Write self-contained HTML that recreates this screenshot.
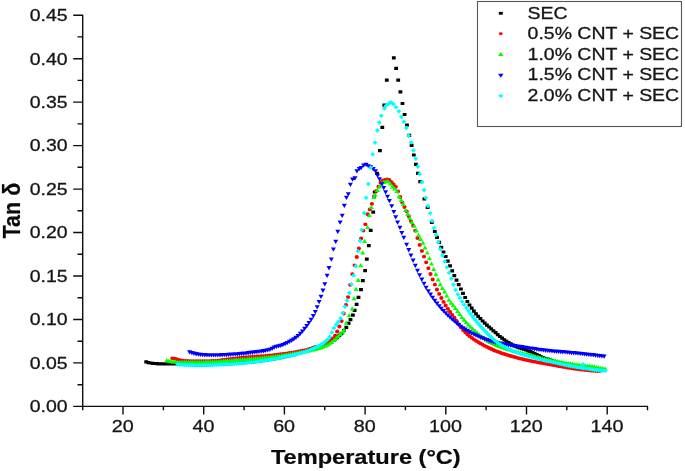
<!DOCTYPE html>
<html lang="en">
<head>
<meta charset="utf-8">
<title>Tan δ vs Temperature</title>
<style>
html,body{margin:0;padding:0;background:#fff;}
body{width:685px;height:471px;overflow:hidden;font-family:"Liberation Sans",sans-serif;}
svg{display:block;}
</style>
</head>
<body>
<svg width="685" height="471" viewBox="0 0 685 471" font-family="'Liberation Sans', sans-serif">
<rect width="685" height="471" fill="#fff"/>
<path d="M82.7 14.7V406.4H648.0" fill="none" stroke="#0c0c0c" stroke-width="1.4"/>
<path d="M73.2 406.4H82.7M77.5 384.7H82.7M73.2 362.9H82.7M77.5 341.2H82.7M73.2 319.5H82.7M77.5 297.7H82.7M73.2 276.0H82.7M77.5 254.3H82.7M73.2 232.5H82.7M77.5 210.8H82.7M73.2 189.1H82.7M77.5 167.3H82.7M73.2 145.6H82.7M77.5 123.9H82.7M73.2 102.1H82.7M77.5 80.4H82.7M73.2 58.7H82.7M77.5 36.9H82.7M73.2 15.2H82.7M82.7 406.4V410.2M123.0 406.4V414.5M163.4 406.4V410.2M203.7 406.4V414.5M244.1 406.4V410.2M284.4 406.4V414.5M324.8 406.4V410.2M365.1 406.4V414.5M405.4 406.4V410.2M445.8 406.4V414.5M486.1 406.4V410.2M526.5 406.4V414.5M566.8 406.4V410.2M607.2 406.4V414.5M647.5 406.4V410.2" fill="none" stroke="#0c0c0c" stroke-width="1.4"/>
<text transform="translate(67.6 412.2) scale(1.145 1)" font-size="17" font-weight="normal" text-anchor="end" fill="#161616" stroke="#161616" stroke-width="0.3">0.00</text>
<text transform="translate(67.6 368.7) scale(1.145 1)" font-size="17" font-weight="normal" text-anchor="end" fill="#161616" stroke="#161616" stroke-width="0.3">0.05</text>
<text transform="translate(67.6 325.3) scale(1.145 1)" font-size="17" font-weight="normal" text-anchor="end" fill="#161616" stroke="#161616" stroke-width="0.3">0.10</text>
<text transform="translate(67.6 281.8) scale(1.145 1)" font-size="17" font-weight="normal" text-anchor="end" fill="#161616" stroke="#161616" stroke-width="0.3">0.15</text>
<text transform="translate(67.6 238.3) scale(1.145 1)" font-size="17" font-weight="normal" text-anchor="end" fill="#161616" stroke="#161616" stroke-width="0.3">0.20</text>
<text transform="translate(67.6 194.9) scale(1.145 1)" font-size="17" font-weight="normal" text-anchor="end" fill="#161616" stroke="#161616" stroke-width="0.3">0.25</text>
<text transform="translate(67.6 151.4) scale(1.145 1)" font-size="17" font-weight="normal" text-anchor="end" fill="#161616" stroke="#161616" stroke-width="0.3">0.30</text>
<text transform="translate(67.6 107.9) scale(1.145 1)" font-size="17" font-weight="normal" text-anchor="end" fill="#161616" stroke="#161616" stroke-width="0.3">0.35</text>
<text transform="translate(67.6 64.5) scale(1.145 1)" font-size="17" font-weight="normal" text-anchor="end" fill="#161616" stroke="#161616" stroke-width="0.3">0.40</text>
<text transform="translate(67.6 21.0) scale(1.145 1)" font-size="17" font-weight="normal" text-anchor="end" fill="#161616" stroke="#161616" stroke-width="0.3">0.45</text>
<text transform="translate(122.7 432.4) scale(1.16 1)" font-size="17" font-weight="normal" text-anchor="middle" fill="#161616" stroke="#161616" stroke-width="0.3">20</text>
<text transform="translate(203.4 432.4) scale(1.16 1)" font-size="17" font-weight="normal" text-anchor="middle" fill="#161616" stroke="#161616" stroke-width="0.3">40</text>
<text transform="translate(284.1 432.4) scale(1.16 1)" font-size="17" font-weight="normal" text-anchor="middle" fill="#161616" stroke="#161616" stroke-width="0.3">60</text>
<text transform="translate(364.8 432.4) scale(1.16 1)" font-size="17" font-weight="normal" text-anchor="middle" fill="#161616" stroke="#161616" stroke-width="0.3">80</text>
<text transform="translate(445.5 432.4) scale(1.16 1)" font-size="17" font-weight="normal" text-anchor="middle" fill="#161616" stroke="#161616" stroke-width="0.3">100</text>
<text transform="translate(526.2 432.4) scale(1.16 1)" font-size="17" font-weight="normal" text-anchor="middle" fill="#161616" stroke="#161616" stroke-width="0.3">120</text>
<text transform="translate(606.9 432.4) scale(1.16 1)" font-size="17" font-weight="normal" text-anchor="middle" fill="#161616" stroke="#161616" stroke-width="0.3">140</text>
<text transform="translate(365.8 463.8) scale(1.18 1)" font-size="20" font-weight="bold" text-anchor="middle" fill="#0a0a0a" stroke="#0a0a0a" stroke-width="0.2">Temperature (°C)</text>
<text transform="translate(19.7 210.6) rotate(-90) scale(1.075 1.17)" font-size="20" font-weight="bold" text-anchor="middle" fill="#0a0a0a" stroke="#0a0a0a" stroke-width="0.2">Tan δ</text>
<defs><filter id="soft" x="0" y="0" width="685" height="471" filterUnits="userSpaceOnUse"><feGaussianBlur stdDeviation="0.35"/></filter></defs>
<g filter="url(#soft)">
<path fill="#000" d="M144.3 360.3h3.8v3.2h-3.8zM146.5 361.0h3.8v3.2h-3.8zM148.6 361.4h3.8v3.2h-3.8zM150.8 361.7h3.8v3.2h-3.8zM153.0 361.9h3.8v3.2h-3.8zM155.1 362.1h3.8v3.2h-3.8zM157.3 362.2h3.8v3.2h-3.8zM159.5 362.2h3.8v3.2h-3.8zM161.7 362.3h3.8v3.2h-3.8zM163.8 362.3h3.8v3.2h-3.8zM166.0 362.3h3.8v3.2h-3.8zM168.2 362.3h3.8v3.2h-3.8zM170.3 362.4h3.8v3.2h-3.8zM172.5 362.4h3.8v3.2h-3.8zM174.7 362.4h3.8v3.2h-3.8zM176.8 362.5h3.8v3.2h-3.8zM179.0 362.6h3.8v3.2h-3.8zM181.2 362.7h3.8v3.2h-3.8zM183.4 362.8h3.8v3.2h-3.8zM185.5 362.9h3.8v3.2h-3.8zM187.7 362.9h3.8v3.2h-3.8zM189.9 363.0h3.8v3.2h-3.8zM192.0 363.1h3.8v3.2h-3.8zM194.2 363.2h3.8v3.2h-3.8zM196.4 363.2h3.8v3.2h-3.8zM198.5 363.2h3.8v3.2h-3.8zM200.7 363.2h3.8v3.2h-3.8zM202.9 363.2h3.8v3.2h-3.8zM205.1 363.1h3.8v3.2h-3.8zM207.2 363.1h3.8v3.2h-3.8zM209.4 363.0h3.8v3.2h-3.8zM211.6 362.9h3.8v3.2h-3.8zM213.7 362.8h3.8v3.2h-3.8zM215.9 362.7h3.8v3.2h-3.8zM218.1 362.6h3.8v3.2h-3.8zM220.2 362.5h3.8v3.2h-3.8zM222.4 362.4h3.8v3.2h-3.8zM224.6 362.3h3.8v3.2h-3.8zM226.8 362.1h3.8v3.2h-3.8zM228.9 362.0h3.8v3.2h-3.8zM231.1 361.9h3.8v3.2h-3.8zM233.3 361.7h3.8v3.2h-3.8zM235.4 361.6h3.8v3.2h-3.8zM237.6 361.4h3.8v3.2h-3.8zM239.8 361.3h3.8v3.2h-3.8zM241.9 361.1h3.8v3.2h-3.8zM244.1 360.9h3.8v3.2h-3.8zM246.3 360.7h3.8v3.2h-3.8zM248.5 360.5h3.8v3.2h-3.8zM250.6 360.3h3.8v3.2h-3.8zM252.8 360.0h3.8v3.2h-3.8zM255.0 359.7h3.8v3.2h-3.8zM257.1 359.5h3.8v3.2h-3.8zM259.3 359.2h3.8v3.2h-3.8zM261.5 358.9h3.8v3.2h-3.8zM263.6 358.6h3.8v3.2h-3.8zM265.8 358.2h3.8v3.2h-3.8zM268.0 357.9h3.8v3.2h-3.8zM270.2 357.6h3.8v3.2h-3.8zM272.3 357.2h3.8v3.2h-3.8zM274.5 356.8h3.8v3.2h-3.8zM276.7 356.4h3.8v3.2h-3.8zM278.8 356.0h3.8v3.2h-3.8zM281.0 355.6h3.8v3.2h-3.8zM283.2 355.1h3.8v3.2h-3.8zM285.3 354.6h3.8v3.2h-3.8zM287.5 354.1h3.8v3.2h-3.8zM289.7 353.5h3.8v3.2h-3.8zM291.9 353.0h3.8v3.2h-3.8zM294.0 352.4h3.8v3.2h-3.8zM296.2 351.8h3.8v3.2h-3.8zM298.4 351.1h3.8v3.2h-3.8zM300.5 350.3h3.8v3.2h-3.8zM302.7 349.5h3.8v3.2h-3.8zM304.9 348.7h3.8v3.2h-3.8zM307.0 347.8h3.8v3.2h-3.8zM309.2 347.0h3.8v3.2h-3.8zM311.4 346.2h3.8v3.2h-3.8zM313.6 345.5h3.8v3.2h-3.8zM315.7 344.9h3.8v3.2h-3.8zM317.9 344.3h3.8v3.2h-3.8zM320.1 343.7h3.8v3.2h-3.8zM322.2 343.0h3.8v3.2h-3.8zM324.4 342.3h3.8v3.2h-3.8zM326.6 341.4h3.8v3.2h-3.8zM328.7 340.2h3.8v3.2h-3.8zM330.9 338.8h3.8v3.2h-3.8zM333.1 337.2h3.8v3.2h-3.8zM335.3 335.5h3.8v3.2h-3.8zM337.4 333.7h3.8v3.2h-3.8zM339.6 331.7h3.8v3.2h-3.8zM342.0 329.1h3.8v3.2h-3.8zM344.4 325.8h3.8v3.2h-3.8zM346.6 321.7h3.8v3.2h-3.8zM348.6 318.0h3.8v3.2h-3.8zM351.0 313.6h3.8v3.2h-3.8zM352.7 308.8h3.8v3.2h-3.8zM354.7 302.7h3.8v3.2h-3.8zM356.6 295.8h3.8v3.2h-3.8zM359.1 288.0h3.8v3.2h-3.8zM361.0 279.0h3.8v3.2h-3.8zM363.2 269.0h3.8v3.2h-3.8zM364.9 257.5h3.8v3.2h-3.8zM366.9 244.1h3.8v3.2h-3.8zM368.8 228.8h3.8v3.2h-3.8zM371.3 210.5h3.8v3.2h-3.8zM372.8 190.4h3.8v3.2h-3.8zM375.1 171.7h3.8v3.2h-3.8zM378.0 149.0h3.8v3.2h-3.8zM380.4 125.8h3.8v3.2h-3.8zM382.4 103.6h3.8v3.2h-3.8zM384.9 78.5h3.8v3.2h-3.8zM391.9 56.3h3.8v3.2h-3.8zM394.2 66.8h3.8v3.2h-3.8zM396.3 78.5h3.8v3.2h-3.8zM398.5 90.2h3.8v3.2h-3.8zM400.6 101.9h3.8v3.2h-3.8zM402.7 112.9h3.8v3.2h-3.8zM405.1 123.4h3.8v3.2h-3.8zM407.4 133.7h3.8v3.2h-3.8zM409.7 143.7h3.8v3.2h-3.8zM411.9 153.4h3.8v3.2h-3.8zM414.0 162.8h3.8v3.2h-3.8zM416.1 171.8h3.8v3.2h-3.8zM418.3 180.1h3.8v3.2h-3.8zM422.5 197.3h3.8v3.2h-3.8zM425.7 205.9h3.8v3.2h-3.8zM429.9 220.7h3.8v3.2h-3.8zM432.9 229.9h3.8v3.2h-3.8zM435.1 235.7h3.8v3.2h-3.8zM437.3 240.8h3.8v3.2h-3.8zM439.4 245.7h3.8v3.2h-3.8zM441.6 250.4h3.8v3.2h-3.8zM443.8 254.9h3.8v3.2h-3.8zM445.9 259.5h3.8v3.2h-3.8zM448.1 264.3h3.8v3.2h-3.8zM450.3 269.2h3.8v3.2h-3.8zM452.4 274.0h3.8v3.2h-3.8zM454.6 278.6h3.8v3.2h-3.8zM456.8 283.1h3.8v3.2h-3.8zM459.0 287.4h3.8v3.2h-3.8zM461.1 291.7h3.8v3.2h-3.8zM463.3 295.9h3.8v3.2h-3.8zM465.5 299.9h3.8v3.2h-3.8zM467.6 303.4h3.8v3.2h-3.8zM469.8 306.6h3.8v3.2h-3.8zM472.0 309.5h3.8v3.2h-3.8zM474.1 312.2h3.8v3.2h-3.8zM476.3 314.7h3.8v3.2h-3.8zM478.5 317.1h3.8v3.2h-3.8zM480.7 319.4h3.8v3.2h-3.8zM482.8 321.5h3.8v3.2h-3.8zM485.0 323.5h3.8v3.2h-3.8zM487.2 325.4h3.8v3.2h-3.8zM489.3 327.3h3.8v3.2h-3.8zM491.5 329.2h3.8v3.2h-3.8zM493.7 331.1h3.8v3.2h-3.8zM495.8 333.0h3.8v3.2h-3.8zM498.0 334.9h3.8v3.2h-3.8zM500.2 336.6h3.8v3.2h-3.8zM502.4 338.2h3.8v3.2h-3.8zM504.5 339.7h3.8v3.2h-3.8zM506.7 341.0h3.8v3.2h-3.8zM508.9 342.3h3.8v3.2h-3.8zM511.0 343.5h3.8v3.2h-3.8zM513.2 344.6h3.8v3.2h-3.8zM515.4 345.5h3.8v3.2h-3.8zM517.5 346.3h3.8v3.2h-3.8zM519.7 347.0h3.8v3.2h-3.8zM521.9 347.6h3.8v3.2h-3.8zM524.1 348.4h3.8v3.2h-3.8zM526.2 349.2h3.8v3.2h-3.8zM528.4 350.1h3.8v3.2h-3.8zM530.6 351.0h3.8v3.2h-3.8zM532.7 352.0h3.8v3.2h-3.8zM534.9 353.0h3.8v3.2h-3.8zM537.1 354.1h3.8v3.2h-3.8zM539.2 355.2h3.8v3.2h-3.8zM541.4 356.1h3.8v3.2h-3.8zM543.6 356.9h3.8v3.2h-3.8zM545.8 357.6h3.8v3.2h-3.8zM547.9 358.3h3.8v3.2h-3.8zM550.1 359.0h3.8v3.2h-3.8zM552.3 359.7h3.8v3.2h-3.8zM554.4 360.3h3.8v3.2h-3.8zM556.6 361.0h3.8v3.2h-3.8zM558.8 361.6h3.8v3.2h-3.8zM560.9 362.1h3.8v3.2h-3.8zM563.1 362.7h3.8v3.2h-3.8zM565.3 363.2h3.8v3.2h-3.8zM567.5 363.7h3.8v3.2h-3.8zM569.6 364.2h3.8v3.2h-3.8zM571.8 364.7h3.8v3.2h-3.8zM574.0 365.2h3.8v3.2h-3.8zM576.1 365.6h3.8v3.2h-3.8zM578.3 366.0h3.8v3.2h-3.8zM580.5 366.4h3.8v3.2h-3.8zM582.6 366.8h3.8v3.2h-3.8zM584.8 367.2h3.8v3.2h-3.8zM587.0 367.6h3.8v3.2h-3.8zM589.1 367.9h3.8v3.2h-3.8zM591.3 368.3h3.8v3.2h-3.8zM593.5 368.6h3.8v3.2h-3.8zM595.7 368.9h3.8v3.2h-3.8zM597.8 369.2h3.8v3.2h-3.8z"/>
<path fill="#f00" d="M170.2 358.3a2.1 1.9 0 1 0 4.2 0a2.1 1.9 0 1 0 -4.2 0zM172.4 358.7a2.1 1.9 0 1 0 4.2 0a2.1 1.9 0 1 0 -4.2 0zM174.5 359.2a2.1 1.9 0 1 0 4.2 0a2.1 1.9 0 1 0 -4.2 0zM176.7 359.8a2.1 1.9 0 1 0 4.2 0a2.1 1.9 0 1 0 -4.2 0zM178.9 360.3a2.1 1.9 0 1 0 4.2 0a2.1 1.9 0 1 0 -4.2 0zM181.0 360.7a2.1 1.9 0 1 0 4.2 0a2.1 1.9 0 1 0 -4.2 0zM183.2 361.0a2.1 1.9 0 1 0 4.2 0a2.1 1.9 0 1 0 -4.2 0zM185.4 361.0a2.1 1.9 0 1 0 4.2 0a2.1 1.9 0 1 0 -4.2 0zM187.6 361.1a2.1 1.9 0 1 0 4.2 0a2.1 1.9 0 1 0 -4.2 0zM189.7 361.1a2.1 1.9 0 1 0 4.2 0a2.1 1.9 0 1 0 -4.2 0zM191.9 361.2a2.1 1.9 0 1 0 4.2 0a2.1 1.9 0 1 0 -4.2 0zM194.1 361.2a2.1 1.9 0 1 0 4.2 0a2.1 1.9 0 1 0 -4.2 0zM196.2 361.2a2.1 1.9 0 1 0 4.2 0a2.1 1.9 0 1 0 -4.2 0zM198.4 361.2a2.1 1.9 0 1 0 4.2 0a2.1 1.9 0 1 0 -4.2 0zM200.6 361.2a2.1 1.9 0 1 0 4.2 0a2.1 1.9 0 1 0 -4.2 0zM202.7 361.2a2.1 1.9 0 1 0 4.2 0a2.1 1.9 0 1 0 -4.2 0zM204.9 361.1a2.1 1.9 0 1 0 4.2 0a2.1 1.9 0 1 0 -4.2 0zM207.1 361.1a2.1 1.9 0 1 0 4.2 0a2.1 1.9 0 1 0 -4.2 0zM209.3 361.0a2.1 1.9 0 1 0 4.2 0a2.1 1.9 0 1 0 -4.2 0zM211.4 360.9a2.1 1.9 0 1 0 4.2 0a2.1 1.9 0 1 0 -4.2 0zM213.6 360.8a2.1 1.9 0 1 0 4.2 0a2.1 1.9 0 1 0 -4.2 0zM215.8 360.6a2.1 1.9 0 1 0 4.2 0a2.1 1.9 0 1 0 -4.2 0zM217.9 360.3a2.1 1.9 0 1 0 4.2 0a2.1 1.9 0 1 0 -4.2 0zM220.1 360.0a2.1 1.9 0 1 0 4.2 0a2.1 1.9 0 1 0 -4.2 0zM222.3 359.8a2.1 1.9 0 1 0 4.2 0a2.1 1.9 0 1 0 -4.2 0zM224.4 359.5a2.1 1.9 0 1 0 4.2 0a2.1 1.9 0 1 0 -4.2 0zM226.6 359.2a2.1 1.9 0 1 0 4.2 0a2.1 1.9 0 1 0 -4.2 0zM228.8 358.9a2.1 1.9 0 1 0 4.2 0a2.1 1.9 0 1 0 -4.2 0zM231.0 358.6a2.1 1.9 0 1 0 4.2 0a2.1 1.9 0 1 0 -4.2 0zM233.1 358.4a2.1 1.9 0 1 0 4.2 0a2.1 1.9 0 1 0 -4.2 0zM235.3 358.1a2.1 1.9 0 1 0 4.2 0a2.1 1.9 0 1 0 -4.2 0zM237.5 357.8a2.1 1.9 0 1 0 4.2 0a2.1 1.9 0 1 0 -4.2 0zM239.6 357.6a2.1 1.9 0 1 0 4.2 0a2.1 1.9 0 1 0 -4.2 0zM241.8 357.4a2.1 1.9 0 1 0 4.2 0a2.1 1.9 0 1 0 -4.2 0zM244.0 357.3a2.1 1.9 0 1 0 4.2 0a2.1 1.9 0 1 0 -4.2 0zM246.1 357.1a2.1 1.9 0 1 0 4.2 0a2.1 1.9 0 1 0 -4.2 0zM248.3 357.0a2.1 1.9 0 1 0 4.2 0a2.1 1.9 0 1 0 -4.2 0zM250.5 356.8a2.1 1.9 0 1 0 4.2 0a2.1 1.9 0 1 0 -4.2 0zM252.7 356.7a2.1 1.9 0 1 0 4.2 0a2.1 1.9 0 1 0 -4.2 0zM254.8 356.5a2.1 1.9 0 1 0 4.2 0a2.1 1.9 0 1 0 -4.2 0zM257.0 356.4a2.1 1.9 0 1 0 4.2 0a2.1 1.9 0 1 0 -4.2 0zM259.2 356.2a2.1 1.9 0 1 0 4.2 0a2.1 1.9 0 1 0 -4.2 0zM261.3 356.1a2.1 1.9 0 1 0 4.2 0a2.1 1.9 0 1 0 -4.2 0zM263.5 355.9a2.1 1.9 0 1 0 4.2 0a2.1 1.9 0 1 0 -4.2 0zM265.7 355.7a2.1 1.9 0 1 0 4.2 0a2.1 1.9 0 1 0 -4.2 0zM267.8 355.5a2.1 1.9 0 1 0 4.2 0a2.1 1.9 0 1 0 -4.2 0zM270.0 355.3a2.1 1.9 0 1 0 4.2 0a2.1 1.9 0 1 0 -4.2 0zM272.2 355.0a2.1 1.9 0 1 0 4.2 0a2.1 1.9 0 1 0 -4.2 0zM274.4 354.8a2.1 1.9 0 1 0 4.2 0a2.1 1.9 0 1 0 -4.2 0zM276.5 354.5a2.1 1.9 0 1 0 4.2 0a2.1 1.9 0 1 0 -4.2 0zM278.7 354.2a2.1 1.9 0 1 0 4.2 0a2.1 1.9 0 1 0 -4.2 0zM280.9 353.9a2.1 1.9 0 1 0 4.2 0a2.1 1.9 0 1 0 -4.2 0zM283.0 353.6a2.1 1.9 0 1 0 4.2 0a2.1 1.9 0 1 0 -4.2 0zM285.2 353.3a2.1 1.9 0 1 0 4.2 0a2.1 1.9 0 1 0 -4.2 0zM287.4 353.0a2.1 1.9 0 1 0 4.2 0a2.1 1.9 0 1 0 -4.2 0zM289.5 352.6a2.1 1.9 0 1 0 4.2 0a2.1 1.9 0 1 0 -4.2 0zM291.7 352.3a2.1 1.9 0 1 0 4.2 0a2.1 1.9 0 1 0 -4.2 0zM293.9 351.9a2.1 1.9 0 1 0 4.2 0a2.1 1.9 0 1 0 -4.2 0zM296.1 351.5a2.1 1.9 0 1 0 4.2 0a2.1 1.9 0 1 0 -4.2 0zM298.2 351.1a2.1 1.9 0 1 0 4.2 0a2.1 1.9 0 1 0 -4.2 0zM300.4 350.7a2.1 1.9 0 1 0 4.2 0a2.1 1.9 0 1 0 -4.2 0zM302.6 350.3a2.1 1.9 0 1 0 4.2 0a2.1 1.9 0 1 0 -4.2 0zM304.7 349.8a2.1 1.9 0 1 0 4.2 0a2.1 1.9 0 1 0 -4.2 0zM306.9 349.3a2.1 1.9 0 1 0 4.2 0a2.1 1.9 0 1 0 -4.2 0zM309.1 348.8a2.1 1.9 0 1 0 4.2 0a2.1 1.9 0 1 0 -4.2 0zM311.2 348.2a2.1 1.9 0 1 0 4.2 0a2.1 1.9 0 1 0 -4.2 0zM313.4 347.6a2.1 1.9 0 1 0 4.2 0a2.1 1.9 0 1 0 -4.2 0zM315.6 346.9a2.1 1.9 0 1 0 4.2 0a2.1 1.9 0 1 0 -4.2 0zM317.8 346.2a2.1 1.9 0 1 0 4.2 0a2.1 1.9 0 1 0 -4.2 0zM319.9 345.4a2.1 1.9 0 1 0 4.2 0a2.1 1.9 0 1 0 -4.2 0zM322.1 344.5a2.1 1.9 0 1 0 4.2 0a2.1 1.9 0 1 0 -4.2 0zM324.3 343.4a2.1 1.9 0 1 0 4.2 0a2.1 1.9 0 1 0 -4.2 0zM326.4 342.2a2.1 1.9 0 1 0 4.2 0a2.1 1.9 0 1 0 -4.2 0zM328.6 340.5a2.1 1.9 0 1 0 4.2 0a2.1 1.9 0 1 0 -4.2 0zM330.8 338.3a2.1 1.9 0 1 0 4.2 0a2.1 1.9 0 1 0 -4.2 0zM333.0 335.6a2.1 1.9 0 1 0 4.2 0a2.1 1.9 0 1 0 -4.2 0zM335.1 331.5a2.1 1.9 0 1 0 4.2 0a2.1 1.9 0 1 0 -4.2 0zM337.3 326.5a2.1 1.9 0 1 0 4.2 0a2.1 1.9 0 1 0 -4.2 0zM339.5 321.1a2.1 1.9 0 1 0 4.2 0a2.1 1.9 0 1 0 -4.2 0zM341.6 313.5a2.1 1.9 0 1 0 4.2 0a2.1 1.9 0 1 0 -4.2 0zM343.8 305.0a2.1 1.9 0 1 0 4.2 0a2.1 1.9 0 1 0 -4.2 0zM346.0 297.1a2.1 1.9 0 1 0 4.2 0a2.1 1.9 0 1 0 -4.2 0zM348.1 284.8a2.1 1.9 0 1 0 4.2 0a2.1 1.9 0 1 0 -4.2 0zM350.3 274.2a2.1 1.9 0 1 0 4.2 0a2.1 1.9 0 1 0 -4.2 0zM352.5 265.3a2.1 1.9 0 1 0 4.2 0a2.1 1.9 0 1 0 -4.2 0zM354.7 257.0a2.1 1.9 0 1 0 4.2 0a2.1 1.9 0 1 0 -4.2 0zM356.8 248.5a2.1 1.9 0 1 0 4.2 0a2.1 1.9 0 1 0 -4.2 0zM359.0 238.4a2.1 1.9 0 1 0 4.2 0a2.1 1.9 0 1 0 -4.2 0zM361.2 230.6a2.1 1.9 0 1 0 4.2 0a2.1 1.9 0 1 0 -4.2 0zM363.3 224.3a2.1 1.9 0 1 0 4.2 0a2.1 1.9 0 1 0 -4.2 0zM365.5 214.2a2.1 1.9 0 1 0 4.2 0a2.1 1.9 0 1 0 -4.2 0zM367.7 209.3a2.1 1.9 0 1 0 4.2 0a2.1 1.9 0 1 0 -4.2 0zM369.8 203.8a2.1 1.9 0 1 0 4.2 0a2.1 1.9 0 1 0 -4.2 0zM372.0 196.5a2.1 1.9 0 1 0 4.2 0a2.1 1.9 0 1 0 -4.2 0zM374.2 191.0a2.1 1.9 0 1 0 4.2 0a2.1 1.9 0 1 0 -4.2 0zM376.4 186.6a2.1 1.9 0 1 0 4.2 0a2.1 1.9 0 1 0 -4.2 0zM378.5 182.4a2.1 1.9 0 1 0 4.2 0a2.1 1.9 0 1 0 -4.2 0zM380.7 180.4a2.1 1.9 0 1 0 4.2 0a2.1 1.9 0 1 0 -4.2 0zM382.9 180.0a2.1 1.9 0 1 0 4.2 0a2.1 1.9 0 1 0 -4.2 0zM385.0 179.5a2.1 1.9 0 1 0 4.2 0a2.1 1.9 0 1 0 -4.2 0zM387.2 179.9a2.1 1.9 0 1 0 4.2 0a2.1 1.9 0 1 0 -4.2 0zM389.4 182.1a2.1 1.9 0 1 0 4.2 0a2.1 1.9 0 1 0 -4.2 0zM391.5 184.5a2.1 1.9 0 1 0 4.2 0a2.1 1.9 0 1 0 -4.2 0zM393.7 186.8a2.1 1.9 0 1 0 4.2 0a2.1 1.9 0 1 0 -4.2 0zM395.9 191.5a2.1 1.9 0 1 0 4.2 0a2.1 1.9 0 1 0 -4.2 0zM398.1 197.0a2.1 1.9 0 1 0 4.2 0a2.1 1.9 0 1 0 -4.2 0zM400.2 202.4a2.1 1.9 0 1 0 4.2 0a2.1 1.9 0 1 0 -4.2 0zM402.4 207.0a2.1 1.9 0 1 0 4.2 0a2.1 1.9 0 1 0 -4.2 0zM404.6 211.3a2.1 1.9 0 1 0 4.2 0a2.1 1.9 0 1 0 -4.2 0zM406.7 216.2a2.1 1.9 0 1 0 4.2 0a2.1 1.9 0 1 0 -4.2 0zM408.9 221.1a2.1 1.9 0 1 0 4.2 0a2.1 1.9 0 1 0 -4.2 0zM411.1 225.5a2.1 1.9 0 1 0 4.2 0a2.1 1.9 0 1 0 -4.2 0zM413.2 230.7a2.1 1.9 0 1 0 4.2 0a2.1 1.9 0 1 0 -4.2 0zM415.4 238.0a2.1 1.9 0 1 0 4.2 0a2.1 1.9 0 1 0 -4.2 0zM417.6 244.9a2.1 1.9 0 1 0 4.2 0a2.1 1.9 0 1 0 -4.2 0zM419.8 250.9a2.1 1.9 0 1 0 4.2 0a2.1 1.9 0 1 0 -4.2 0zM421.9 256.6a2.1 1.9 0 1 0 4.2 0a2.1 1.9 0 1 0 -4.2 0zM424.1 262.3a2.1 1.9 0 1 0 4.2 0a2.1 1.9 0 1 0 -4.2 0zM426.3 268.2a2.1 1.9 0 1 0 4.2 0a2.1 1.9 0 1 0 -4.2 0zM428.4 274.0a2.1 1.9 0 1 0 4.2 0a2.1 1.9 0 1 0 -4.2 0zM430.6 279.5a2.1 1.9 0 1 0 4.2 0a2.1 1.9 0 1 0 -4.2 0zM432.8 284.6a2.1 1.9 0 1 0 4.2 0a2.1 1.9 0 1 0 -4.2 0zM434.9 289.5a2.1 1.9 0 1 0 4.2 0a2.1 1.9 0 1 0 -4.2 0zM437.1 293.9a2.1 1.9 0 1 0 4.2 0a2.1 1.9 0 1 0 -4.2 0zM439.3 298.0a2.1 1.9 0 1 0 4.2 0a2.1 1.9 0 1 0 -4.2 0zM441.5 301.9a2.1 1.9 0 1 0 4.2 0a2.1 1.9 0 1 0 -4.2 0zM443.6 305.5a2.1 1.9 0 1 0 4.2 0a2.1 1.9 0 1 0 -4.2 0zM445.8 308.8a2.1 1.9 0 1 0 4.2 0a2.1 1.9 0 1 0 -4.2 0zM448.0 311.9a2.1 1.9 0 1 0 4.2 0a2.1 1.9 0 1 0 -4.2 0zM450.1 314.8a2.1 1.9 0 1 0 4.2 0a2.1 1.9 0 1 0 -4.2 0zM452.3 317.7a2.1 1.9 0 1 0 4.2 0a2.1 1.9 0 1 0 -4.2 0zM454.5 320.9a2.1 1.9 0 1 0 4.2 0a2.1 1.9 0 1 0 -4.2 0zM456.6 324.2a2.1 1.9 0 1 0 4.2 0a2.1 1.9 0 1 0 -4.2 0zM458.8 327.3a2.1 1.9 0 1 0 4.2 0a2.1 1.9 0 1 0 -4.2 0zM461.0 330.1a2.1 1.9 0 1 0 4.2 0a2.1 1.9 0 1 0 -4.2 0zM463.2 332.3a2.1 1.9 0 1 0 4.2 0a2.1 1.9 0 1 0 -4.2 0zM465.3 334.3a2.1 1.9 0 1 0 4.2 0a2.1 1.9 0 1 0 -4.2 0zM467.5 336.2a2.1 1.9 0 1 0 4.2 0a2.1 1.9 0 1 0 -4.2 0zM469.7 337.8a2.1 1.9 0 1 0 4.2 0a2.1 1.9 0 1 0 -4.2 0zM471.8 339.3a2.1 1.9 0 1 0 4.2 0a2.1 1.9 0 1 0 -4.2 0zM474.0 340.8a2.1 1.9 0 1 0 4.2 0a2.1 1.9 0 1 0 -4.2 0zM476.2 342.1a2.1 1.9 0 1 0 4.2 0a2.1 1.9 0 1 0 -4.2 0zM478.3 343.4a2.1 1.9 0 1 0 4.2 0a2.1 1.9 0 1 0 -4.2 0zM480.5 344.7a2.1 1.9 0 1 0 4.2 0a2.1 1.9 0 1 0 -4.2 0zM482.7 345.8a2.1 1.9 0 1 0 4.2 0a2.1 1.9 0 1 0 -4.2 0zM484.9 346.9a2.1 1.9 0 1 0 4.2 0a2.1 1.9 0 1 0 -4.2 0zM487.0 348.0a2.1 1.9 0 1 0 4.2 0a2.1 1.9 0 1 0 -4.2 0zM489.2 349.0a2.1 1.9 0 1 0 4.2 0a2.1 1.9 0 1 0 -4.2 0zM491.4 350.0a2.1 1.9 0 1 0 4.2 0a2.1 1.9 0 1 0 -4.2 0zM493.5 350.9a2.1 1.9 0 1 0 4.2 0a2.1 1.9 0 1 0 -4.2 0zM495.7 351.7a2.1 1.9 0 1 0 4.2 0a2.1 1.9 0 1 0 -4.2 0zM497.9 352.5a2.1 1.9 0 1 0 4.2 0a2.1 1.9 0 1 0 -4.2 0zM500.0 353.3a2.1 1.9 0 1 0 4.2 0a2.1 1.9 0 1 0 -4.2 0zM502.2 354.0a2.1 1.9 0 1 0 4.2 0a2.1 1.9 0 1 0 -4.2 0zM504.4 354.7a2.1 1.9 0 1 0 4.2 0a2.1 1.9 0 1 0 -4.2 0zM506.6 355.3a2.1 1.9 0 1 0 4.2 0a2.1 1.9 0 1 0 -4.2 0zM508.7 356.0a2.1 1.9 0 1 0 4.2 0a2.1 1.9 0 1 0 -4.2 0zM510.9 356.6a2.1 1.9 0 1 0 4.2 0a2.1 1.9 0 1 0 -4.2 0zM513.1 357.2a2.1 1.9 0 1 0 4.2 0a2.1 1.9 0 1 0 -4.2 0zM515.2 357.8a2.1 1.9 0 1 0 4.2 0a2.1 1.9 0 1 0 -4.2 0zM517.4 358.3a2.1 1.9 0 1 0 4.2 0a2.1 1.9 0 1 0 -4.2 0zM519.6 358.8a2.1 1.9 0 1 0 4.2 0a2.1 1.9 0 1 0 -4.2 0zM521.7 359.4a2.1 1.9 0 1 0 4.2 0a2.1 1.9 0 1 0 -4.2 0zM523.9 359.9a2.1 1.9 0 1 0 4.2 0a2.1 1.9 0 1 0 -4.2 0zM526.1 360.3a2.1 1.9 0 1 0 4.2 0a2.1 1.9 0 1 0 -4.2 0zM528.3 360.8a2.1 1.9 0 1 0 4.2 0a2.1 1.9 0 1 0 -4.2 0zM530.4 361.3a2.1 1.9 0 1 0 4.2 0a2.1 1.9 0 1 0 -4.2 0zM532.6 361.7a2.1 1.9 0 1 0 4.2 0a2.1 1.9 0 1 0 -4.2 0zM534.8 362.1a2.1 1.9 0 1 0 4.2 0a2.1 1.9 0 1 0 -4.2 0zM536.9 362.5a2.1 1.9 0 1 0 4.2 0a2.1 1.9 0 1 0 -4.2 0zM539.1 362.9a2.1 1.9 0 1 0 4.2 0a2.1 1.9 0 1 0 -4.2 0zM541.3 363.3a2.1 1.9 0 1 0 4.2 0a2.1 1.9 0 1 0 -4.2 0zM543.4 363.6a2.1 1.9 0 1 0 4.2 0a2.1 1.9 0 1 0 -4.2 0zM545.6 364.0a2.1 1.9 0 1 0 4.2 0a2.1 1.9 0 1 0 -4.2 0zM547.8 364.4a2.1 1.9 0 1 0 4.2 0a2.1 1.9 0 1 0 -4.2 0zM550.0 364.8a2.1 1.9 0 1 0 4.2 0a2.1 1.9 0 1 0 -4.2 0zM552.1 365.2a2.1 1.9 0 1 0 4.2 0a2.1 1.9 0 1 0 -4.2 0zM554.3 365.6a2.1 1.9 0 1 0 4.2 0a2.1 1.9 0 1 0 -4.2 0zM556.5 366.0a2.1 1.9 0 1 0 4.2 0a2.1 1.9 0 1 0 -4.2 0zM558.6 366.4a2.1 1.9 0 1 0 4.2 0a2.1 1.9 0 1 0 -4.2 0zM560.8 366.8a2.1 1.9 0 1 0 4.2 0a2.1 1.9 0 1 0 -4.2 0zM563.0 367.1a2.1 1.9 0 1 0 4.2 0a2.1 1.9 0 1 0 -4.2 0zM565.1 367.5a2.1 1.9 0 1 0 4.2 0a2.1 1.9 0 1 0 -4.2 0zM567.3 367.9a2.1 1.9 0 1 0 4.2 0a2.1 1.9 0 1 0 -4.2 0zM569.5 368.2a2.1 1.9 0 1 0 4.2 0a2.1 1.9 0 1 0 -4.2 0zM571.7 368.6a2.1 1.9 0 1 0 4.2 0a2.1 1.9 0 1 0 -4.2 0zM573.8 368.9a2.1 1.9 0 1 0 4.2 0a2.1 1.9 0 1 0 -4.2 0zM576.0 369.2a2.1 1.9 0 1 0 4.2 0a2.1 1.9 0 1 0 -4.2 0zM578.2 369.4a2.1 1.9 0 1 0 4.2 0a2.1 1.9 0 1 0 -4.2 0zM580.3 369.7a2.1 1.9 0 1 0 4.2 0a2.1 1.9 0 1 0 -4.2 0zM582.5 369.9a2.1 1.9 0 1 0 4.2 0a2.1 1.9 0 1 0 -4.2 0zM584.7 370.1a2.1 1.9 0 1 0 4.2 0a2.1 1.9 0 1 0 -4.2 0zM586.8 370.3a2.1 1.9 0 1 0 4.2 0a2.1 1.9 0 1 0 -4.2 0zM589.0 370.5a2.1 1.9 0 1 0 4.2 0a2.1 1.9 0 1 0 -4.2 0zM591.2 370.7a2.1 1.9 0 1 0 4.2 0a2.1 1.9 0 1 0 -4.2 0zM593.3 370.9a2.1 1.9 0 1 0 4.2 0a2.1 1.9 0 1 0 -4.2 0zM595.5 371.0a2.1 1.9 0 1 0 4.2 0a2.1 1.9 0 1 0 -4.2 0z"/>
<path fill="#0f0" d="M164.3 362.2h5.0l-2.5 -4.2zM166.5 362.8h5.0l-2.5 -4.2zM168.6 363.3h5.0l-2.5 -4.2zM170.8 363.7h5.0l-2.5 -4.2zM173.0 363.8h5.0l-2.5 -4.2zM175.1 363.9h5.0l-2.5 -4.2zM177.3 363.9h5.0l-2.5 -4.2zM179.5 363.9h5.0l-2.5 -4.2zM181.7 363.9h5.0l-2.5 -4.2zM183.8 363.9h5.0l-2.5 -4.2zM186.0 363.9h5.0l-2.5 -4.2zM188.2 363.9h5.0l-2.5 -4.2zM190.3 363.9h5.0l-2.5 -4.2zM192.5 363.9h5.0l-2.5 -4.2zM194.7 363.9h5.0l-2.5 -4.2zM196.8 363.9h5.0l-2.5 -4.2zM199.0 363.9h5.0l-2.5 -4.2zM201.2 363.9h5.0l-2.5 -4.2zM203.4 363.8h5.0l-2.5 -4.2zM205.5 363.7h5.0l-2.5 -4.2zM207.7 363.7h5.0l-2.5 -4.2zM209.9 363.6h5.0l-2.5 -4.2zM212.0 363.5h5.0l-2.5 -4.2zM214.2 363.4h5.0l-2.5 -4.2zM216.4 363.2h5.0l-2.5 -4.2zM218.5 363.1h5.0l-2.5 -4.2zM220.7 362.9h5.0l-2.5 -4.2zM222.9 362.8h5.0l-2.5 -4.2zM225.1 362.6h5.0l-2.5 -4.2zM227.2 362.4h5.0l-2.5 -4.2zM229.4 362.2h5.0l-2.5 -4.2zM231.6 362.0h5.0l-2.5 -4.2zM233.7 361.8h5.0l-2.5 -4.2zM235.9 361.6h5.0l-2.5 -4.2zM238.1 361.5h5.0l-2.5 -4.2zM240.2 361.3h5.0l-2.5 -4.2zM242.4 361.1h5.0l-2.5 -4.2zM244.6 360.9h5.0l-2.5 -4.2zM246.8 360.8h5.0l-2.5 -4.2zM248.9 360.6h5.0l-2.5 -4.2zM251.1 360.4h5.0l-2.5 -4.2zM253.3 360.3h5.0l-2.5 -4.2zM255.4 360.1h5.0l-2.5 -4.2zM257.6 359.9h5.0l-2.5 -4.2zM259.8 359.7h5.0l-2.5 -4.2zM261.9 359.5h5.0l-2.5 -4.2zM264.1 359.3h5.0l-2.5 -4.2zM266.3 359.0h5.0l-2.5 -4.2zM268.5 358.8h5.0l-2.5 -4.2zM270.6 358.5h5.0l-2.5 -4.2zM272.8 358.2h5.0l-2.5 -4.2zM275.0 357.9h5.0l-2.5 -4.2zM277.1 357.6h5.0l-2.5 -4.2zM279.3 357.3h5.0l-2.5 -4.2zM281.5 356.9h5.0l-2.5 -4.2zM283.6 356.6h5.0l-2.5 -4.2zM285.8 356.2h5.0l-2.5 -4.2zM288.0 355.9h5.0l-2.5 -4.2zM290.2 355.5h5.0l-2.5 -4.2zM292.3 355.1h5.0l-2.5 -4.2zM294.5 354.7h5.0l-2.5 -4.2zM296.7 354.4h5.0l-2.5 -4.2zM298.8 354.0h5.0l-2.5 -4.2zM301.0 353.6h5.0l-2.5 -4.2zM303.2 353.2h5.0l-2.5 -4.2zM305.3 352.8h5.0l-2.5 -4.2zM307.5 352.3h5.0l-2.5 -4.2zM309.7 351.8h5.0l-2.5 -4.2zM311.9 351.3h5.0l-2.5 -4.2zM314.0 350.7h5.0l-2.5 -4.2zM316.2 350.1h5.0l-2.5 -4.2zM318.4 349.4h5.0l-2.5 -4.2zM320.5 348.6h5.0l-2.5 -4.2zM322.7 347.7h5.0l-2.5 -4.2zM324.9 346.7h5.0l-2.5 -4.2zM327.1 345.5h5.0l-2.5 -4.2zM329.2 344.0h5.0l-2.5 -4.2zM331.4 342.1h5.0l-2.5 -4.2zM333.6 340.1h5.0l-2.5 -4.2zM335.7 338.1h5.0l-2.5 -4.2zM337.9 336.0h5.0l-2.5 -4.2zM340.1 333.7h5.0l-2.5 -4.2zM341.4 331.7h5.0l-2.5 -4.2zM343.8 324.7h5.0l-2.5 -4.2zM346.8 317.3h5.0l-2.5 -4.2zM349.7 310.5h5.0l-2.5 -4.2zM351.6 300.3h5.0l-2.5 -4.2zM353.6 291.0h5.0l-2.5 -4.2zM355.8 282.0h5.0l-2.5 -4.2zM358.2 267.3h5.0l-2.5 -4.2zM360.2 254.4h5.0l-2.5 -4.2zM362.1 243.0h5.0l-2.5 -4.2zM365.1 229.1h5.0l-2.5 -4.2zM366.8 217.1h5.0l-2.5 -4.2zM368.8 209.1h5.0l-2.5 -4.2zM371.6 199.0h5.0l-2.5 -4.2zM372.6 196.4h5.0l-2.5 -4.2zM374.8 191.9h5.0l-2.5 -4.2zM377.0 188.4h5.0l-2.5 -4.2zM379.1 185.5h5.0l-2.5 -4.2zM381.3 184.0h5.0l-2.5 -4.2zM383.5 183.3h5.0l-2.5 -4.2zM385.6 183.3h5.0l-2.5 -4.2zM387.8 185.6h5.0l-2.5 -4.2zM390.0 188.5h5.0l-2.5 -4.2zM392.2 190.4h5.0l-2.5 -4.2zM394.3 193.1h5.0l-2.5 -4.2zM396.5 198.2h5.0l-2.5 -4.2zM398.7 202.0h5.0l-2.5 -4.2zM400.8 205.9h5.0l-2.5 -4.2zM403.0 212.1h5.0l-2.5 -4.2zM405.2 215.7h5.0l-2.5 -4.2zM407.3 220.0h5.0l-2.5 -4.2zM409.5 223.9h5.0l-2.5 -4.2zM411.7 227.8h5.0l-2.5 -4.2zM413.9 232.2h5.0l-2.5 -4.2zM416.0 237.0h5.0l-2.5 -4.2zM418.2 240.9h5.0l-2.5 -4.2zM420.4 244.7h5.0l-2.5 -4.2zM422.5 249.4h5.0l-2.5 -4.2zM424.7 254.6h5.0l-2.5 -4.2zM426.9 260.2h5.0l-2.5 -4.2zM429.0 265.6h5.0l-2.5 -4.2zM431.2 270.9h5.0l-2.5 -4.2zM433.4 276.3h5.0l-2.5 -4.2zM435.6 281.5h5.0l-2.5 -4.2zM437.7 286.2h5.0l-2.5 -4.2zM439.9 290.0h5.0l-2.5 -4.2zM442.1 293.4h5.0l-2.5 -4.2zM444.2 297.6h5.0l-2.5 -4.2zM446.4 301.8h5.0l-2.5 -4.2zM448.6 304.8h5.0l-2.5 -4.2zM450.7 307.3h5.0l-2.5 -4.2zM452.9 310.0h5.0l-2.5 -4.2zM455.1 312.9h5.0l-2.5 -4.2zM457.3 316.1h5.0l-2.5 -4.2zM459.4 319.1h5.0l-2.5 -4.2zM461.6 321.8h5.0l-2.5 -4.2zM463.8 324.3h5.0l-2.5 -4.2zM465.9 326.6h5.0l-2.5 -4.2zM468.1 328.7h5.0l-2.5 -4.2zM470.3 330.8h5.0l-2.5 -4.2zM472.4 332.8h5.0l-2.5 -4.2zM474.6 334.7h5.0l-2.5 -4.2zM476.8 336.6h5.0l-2.5 -4.2zM479.0 338.4h5.0l-2.5 -4.2zM481.1 340.0h5.0l-2.5 -4.2zM483.3 341.5h5.0l-2.5 -4.2zM485.5 342.8h5.0l-2.5 -4.2zM487.6 344.0h5.0l-2.5 -4.2zM489.8 345.1h5.0l-2.5 -4.2zM492.0 346.1h5.0l-2.5 -4.2zM494.1 347.0h5.0l-2.5 -4.2zM496.3 347.9h5.0l-2.5 -4.2zM498.5 348.8h5.0l-2.5 -4.2zM500.7 349.5h5.0l-2.5 -4.2zM502.8 350.3h5.0l-2.5 -4.2zM505.0 351.0h5.0l-2.5 -4.2zM507.2 351.6h5.0l-2.5 -4.2zM509.3 352.2h5.0l-2.5 -4.2zM511.5 352.9h5.0l-2.5 -4.2zM513.7 353.5h5.0l-2.5 -4.2zM515.8 354.0h5.0l-2.5 -4.2zM518.0 354.6h5.0l-2.5 -4.2zM520.2 355.1h5.0l-2.5 -4.2zM522.4 355.6h5.0l-2.5 -4.2zM524.5 356.1h5.0l-2.5 -4.2zM526.7 356.6h5.0l-2.5 -4.2zM528.9 357.1h5.0l-2.5 -4.2zM531.0 357.6h5.0l-2.5 -4.2zM533.2 358.2h5.0l-2.5 -4.2zM535.4 358.7h5.0l-2.5 -4.2zM537.5 359.3h5.0l-2.5 -4.2zM539.7 359.9h5.0l-2.5 -4.2zM541.9 360.5h5.0l-2.5 -4.2zM544.1 361.0h5.0l-2.5 -4.2zM546.2 361.5h5.0l-2.5 -4.2zM548.4 362.0h5.0l-2.5 -4.2zM550.6 362.4h5.0l-2.5 -4.2zM552.7 362.8h5.0l-2.5 -4.2zM554.9 363.2h5.0l-2.5 -4.2zM557.1 363.6h5.0l-2.5 -4.2zM559.2 364.0h5.0l-2.5 -4.2zM561.4 364.4h5.0l-2.5 -4.2zM563.6 364.8h5.0l-2.5 -4.2zM565.8 365.1h5.0l-2.5 -4.2zM567.9 365.5h5.0l-2.5 -4.2zM570.1 365.8h5.0l-2.5 -4.2zM572.3 366.2h5.0l-2.5 -4.2zM574.4 366.5h5.0l-2.5 -4.2zM576.6 366.8h5.0l-2.5 -4.2zM578.8 367.1h5.0l-2.5 -4.2zM580.9 367.4h5.0l-2.5 -4.2zM583.1 367.7h5.0l-2.5 -4.2zM585.3 367.8h5.0l-2.5 -4.2zM587.4 367.9h5.0l-2.5 -4.2zM589.6 368.1h5.0l-2.5 -4.2zM591.8 368.5h5.0l-2.5 -4.2zM594.0 369.1h5.0l-2.5 -4.2zM596.1 369.5h5.0l-2.5 -4.2zM598.3 369.9h5.0l-2.5 -4.2zM600.5 370.3h5.0l-2.5 -4.2zM602.6 370.6h5.0l-2.5 -4.2z"/>
<path fill="#00f" d="M187.1 350.2h5.0l-2.5 4.3zM189.3 351.0h5.0l-2.5 4.3zM191.4 351.6h5.0l-2.5 4.3zM193.6 352.1h5.0l-2.5 4.3zM195.8 352.4h5.0l-2.5 4.3zM197.9 352.7h5.0l-2.5 4.3zM200.1 352.9h5.0l-2.5 4.3zM202.3 353.1h5.0l-2.5 4.3zM204.5 353.2h5.0l-2.5 4.3zM206.6 353.3h5.0l-2.5 4.3zM208.8 353.3h5.0l-2.5 4.3zM211.0 353.3h5.0l-2.5 4.3zM213.1 353.3h5.0l-2.5 4.3zM215.3 353.2h5.0l-2.5 4.3zM217.5 353.2h5.0l-2.5 4.3zM219.6 353.1h5.0l-2.5 4.3zM221.8 353.0h5.0l-2.5 4.3zM224.0 352.9h5.0l-2.5 4.3zM226.2 352.8h5.0l-2.5 4.3zM228.3 352.6h5.0l-2.5 4.3zM230.5 352.5h5.0l-2.5 4.3zM232.7 352.3h5.0l-2.5 4.3zM234.8 352.2h5.0l-2.5 4.3zM237.0 352.0h5.0l-2.5 4.3zM239.2 351.8h5.0l-2.5 4.3zM241.3 351.6h5.0l-2.5 4.3zM243.5 351.4h5.0l-2.5 4.3zM245.7 351.1h5.0l-2.5 4.3zM247.9 350.8h5.0l-2.5 4.3zM250.0 350.6h5.0l-2.5 4.3zM252.2 350.3h5.0l-2.5 4.3zM254.4 350.0h5.0l-2.5 4.3zM256.5 349.7h5.0l-2.5 4.3zM258.7 349.4h5.0l-2.5 4.3zM260.9 349.1h5.0l-2.5 4.3zM263.0 348.7h5.0l-2.5 4.3zM265.2 348.2h5.0l-2.5 4.3zM267.4 347.7h5.0l-2.5 4.3zM269.6 346.7h5.0l-2.5 4.3zM271.7 345.5h5.0l-2.5 4.3zM273.9 344.8h5.0l-2.5 4.3zM276.1 344.3h5.0l-2.5 4.3zM278.2 343.7h5.0l-2.5 4.3zM280.4 342.9h5.0l-2.5 4.3zM282.6 342.0h5.0l-2.5 4.3zM284.7 341.0h5.0l-2.5 4.3zM286.9 339.8h5.0l-2.5 4.3zM289.1 338.6h5.0l-2.5 4.3zM291.3 337.3h5.0l-2.5 4.3zM293.4 335.8h5.0l-2.5 4.3zM295.6 334.0h5.0l-2.5 4.3zM297.8 331.8h5.0l-2.5 4.3zM299.9 329.4h5.0l-2.5 4.3zM302.1 326.8h5.0l-2.5 4.3zM304.3 324.1h5.0l-2.5 4.3zM306.4 320.9h5.0l-2.5 4.3zM308.6 317.8h5.0l-2.5 4.3zM310.8 314.1h5.0l-2.5 4.3zM312.8 310.0h5.0l-2.5 4.3zM314.7 305.2h5.0l-2.5 4.3zM316.6 300.0h5.0l-2.5 4.3zM318.5 294.7h5.0l-2.5 4.3zM320.4 288.6h5.0l-2.5 4.3zM322.3 282.2h5.0l-2.5 4.3zM324.6 273.7h5.0l-2.5 4.3zM326.5 266.1h5.0l-2.5 4.3zM328.8 257.5h5.0l-2.5 4.3zM330.9 247.5h5.0l-2.5 4.3zM333.2 239.7h5.0l-2.5 4.3zM335.3 229.8h5.0l-2.5 4.3zM337.6 220.5h5.0l-2.5 4.3zM339.7 213.8h5.0l-2.5 4.3zM341.8 203.8h5.0l-2.5 4.3zM343.9 195.7h5.0l-2.5 4.3zM345.8 192.2h5.0l-2.5 4.3zM347.9 182.8h5.0l-2.5 4.3zM350.0 177.4h5.0l-2.5 4.3zM352.5 176.2h5.0l-2.5 4.3zM354.4 169.2h5.0l-2.5 4.3zM356.7 166.9h5.0l-2.5 4.3zM358.6 166.0h5.0l-2.5 4.3zM361.1 163.5h5.0l-2.5 4.3zM363.6 162.8h5.0l-2.5 4.3zM365.9 164.2h5.0l-2.5 4.3zM368.2 165.3h5.0l-2.5 4.3zM370.7 166.9h5.0l-2.5 4.3zM373.0 169.2h5.0l-2.5 4.3zM375.1 173.7h5.0l-2.5 4.3zM377.0 177.2h5.0l-2.5 4.3zM379.3 182.2h5.0l-2.5 4.3zM381.2 186.0h5.0l-2.5 4.3zM383.1 190.2h5.0l-2.5 4.3zM385.0 194.7h5.0l-2.5 4.3zM386.9 199.0h5.0l-2.5 4.3zM389.2 204.2h5.0l-2.5 4.3zM391.3 209.9h5.0l-2.5 4.3zM393.2 215.2h5.0l-2.5 4.3zM395.1 220.5h5.0l-2.5 4.3zM397.4 225.8h5.0l-2.5 4.3zM399.3 231.0h5.0l-2.5 4.3zM401.3 235.8h5.0l-2.5 4.3zM404.1 242.8h5.0l-2.5 4.3zM406.3 248.1h5.0l-2.5 4.3zM408.4 253.4h5.0l-2.5 4.3zM410.6 258.6h5.0l-2.5 4.3zM412.8 263.7h5.0l-2.5 4.3zM415.0 268.7h5.0l-2.5 4.3zM417.1 273.3h5.0l-2.5 4.3zM419.3 277.6h5.0l-2.5 4.3zM421.5 281.8h5.0l-2.5 4.3zM423.6 285.7h5.0l-2.5 4.3zM425.8 289.3h5.0l-2.5 4.3zM428.0 292.6h5.0l-2.5 4.3zM430.1 295.8h5.0l-2.5 4.3zM432.3 298.8h5.0l-2.5 4.3zM434.5 301.6h5.0l-2.5 4.3zM436.7 304.2h5.0l-2.5 4.3zM438.8 306.7h5.0l-2.5 4.3zM441.0 309.0h5.0l-2.5 4.3zM443.2 311.2h5.0l-2.5 4.3zM445.3 313.4h5.0l-2.5 4.3zM447.5 315.4h5.0l-2.5 4.3zM449.7 317.4h5.0l-2.5 4.3zM451.8 319.3h5.0l-2.5 4.3zM454.0 321.2h5.0l-2.5 4.3zM456.2 323.0h5.0l-2.5 4.3zM458.4 324.7h5.0l-2.5 4.3zM460.5 326.2h5.0l-2.5 4.3zM462.7 327.6h5.0l-2.5 4.3zM464.9 328.9h5.0l-2.5 4.3zM467.0 330.2h5.0l-2.5 4.3zM469.2 331.4h5.0l-2.5 4.3zM471.4 332.5h5.0l-2.5 4.3zM473.5 333.5h5.0l-2.5 4.3zM475.7 334.5h5.0l-2.5 4.3zM477.9 335.4h5.0l-2.5 4.3zM480.1 336.3h5.0l-2.5 4.3zM482.2 337.2h5.0l-2.5 4.3zM484.4 338.0h5.0l-2.5 4.3zM486.6 338.7h5.0l-2.5 4.3zM488.7 339.4h5.0l-2.5 4.3zM490.9 340.1h5.0l-2.5 4.3zM493.1 340.6h5.0l-2.5 4.3zM495.2 341.1h5.0l-2.5 4.3zM497.4 341.6h5.0l-2.5 4.3zM499.6 342.0h5.0l-2.5 4.3zM501.8 342.4h5.0l-2.5 4.3zM503.9 342.8h5.0l-2.5 4.3zM506.1 343.1h5.0l-2.5 4.3zM508.3 343.4h5.0l-2.5 4.3zM510.4 343.8h5.0l-2.5 4.3zM512.6 344.1h5.0l-2.5 4.3zM514.8 344.4h5.0l-2.5 4.3zM516.9 344.8h5.0l-2.5 4.3zM519.1 345.1h5.0l-2.5 4.3zM521.3 345.5h5.0l-2.5 4.3zM523.5 345.8h5.0l-2.5 4.3zM525.6 346.2h5.0l-2.5 4.3zM527.8 346.5h5.0l-2.5 4.3zM530.0 346.8h5.0l-2.5 4.3zM532.1 347.1h5.0l-2.5 4.3zM534.3 347.4h5.0l-2.5 4.3zM536.5 347.7h5.0l-2.5 4.3zM538.6 348.0h5.0l-2.5 4.3zM540.8 348.3h5.0l-2.5 4.3zM543.0 348.6h5.0l-2.5 4.3zM545.2 348.8h5.0l-2.5 4.3zM547.3 349.0h5.0l-2.5 4.3zM549.5 349.2h5.0l-2.5 4.3zM551.7 349.4h5.0l-2.5 4.3zM553.8 349.6h5.0l-2.5 4.3zM556.0 349.7h5.0l-2.5 4.3zM558.2 349.9h5.0l-2.5 4.3zM560.3 350.1h5.0l-2.5 4.3zM562.5 350.3h5.0l-2.5 4.3zM564.7 350.5h5.0l-2.5 4.3zM566.9 350.7h5.0l-2.5 4.3zM569.0 350.9h5.0l-2.5 4.3zM571.2 351.1h5.0l-2.5 4.3zM573.4 351.3h5.0l-2.5 4.3zM575.5 351.5h5.0l-2.5 4.3zM577.7 351.7h5.0l-2.5 4.3zM579.9 351.9h5.0l-2.5 4.3zM582.0 352.2h5.0l-2.5 4.3zM584.2 352.4h5.0l-2.5 4.3zM586.4 352.7h5.0l-2.5 4.3zM588.5 352.9h5.0l-2.5 4.3zM590.7 353.1h5.0l-2.5 4.3zM592.9 353.4h5.0l-2.5 4.3zM595.1 353.7h5.0l-2.5 4.3zM597.2 353.9h5.0l-2.5 4.3zM599.4 354.2h5.0l-2.5 4.3zM601.6 354.5h5.0l-2.5 4.3z"/>
<path fill="#0ff" d="M175.4 364.4l2.45 -2.3l2.45 2.3l-2.45 2.3zM177.5 364.6l2.45 -2.3l2.45 2.3l-2.45 2.3zM179.7 364.8l2.45 -2.3l2.45 2.3l-2.45 2.3zM181.9 364.9l2.45 -2.3l2.45 2.3l-2.45 2.3zM184.0 365.0l2.45 -2.3l2.45 2.3l-2.45 2.3zM186.2 365.1l2.45 -2.3l2.45 2.3l-2.45 2.3zM188.4 365.1l2.45 -2.3l2.45 2.3l-2.45 2.3zM190.5 365.1l2.45 -2.3l2.45 2.3l-2.45 2.3zM192.7 365.2l2.45 -2.3l2.45 2.3l-2.45 2.3zM194.9 365.2l2.45 -2.3l2.45 2.3l-2.45 2.3zM197.0 365.2l2.45 -2.3l2.45 2.3l-2.45 2.3zM199.2 365.2l2.45 -2.3l2.45 2.3l-2.45 2.3zM201.4 365.2l2.45 -2.3l2.45 2.3l-2.45 2.3zM203.6 365.1l2.45 -2.3l2.45 2.3l-2.45 2.3zM205.7 365.0l2.45 -2.3l2.45 2.3l-2.45 2.3zM207.9 365.0l2.45 -2.3l2.45 2.3l-2.45 2.3zM210.1 364.9l2.45 -2.3l2.45 2.3l-2.45 2.3zM212.2 364.8l2.45 -2.3l2.45 2.3l-2.45 2.3zM214.4 364.7l2.45 -2.3l2.45 2.3l-2.45 2.3zM216.6 364.6l2.45 -2.3l2.45 2.3l-2.45 2.3zM218.7 364.5l2.45 -2.3l2.45 2.3l-2.45 2.3zM220.9 364.4l2.45 -2.3l2.45 2.3l-2.45 2.3zM223.1 364.3l2.45 -2.3l2.45 2.3l-2.45 2.3zM225.3 364.1l2.45 -2.3l2.45 2.3l-2.45 2.3zM227.4 364.0l2.45 -2.3l2.45 2.3l-2.45 2.3zM229.6 363.9l2.45 -2.3l2.45 2.3l-2.45 2.3zM231.8 363.7l2.45 -2.3l2.45 2.3l-2.45 2.3zM233.9 363.6l2.45 -2.3l2.45 2.3l-2.45 2.3zM236.1 363.4l2.45 -2.3l2.45 2.3l-2.45 2.3zM238.3 363.2l2.45 -2.3l2.45 2.3l-2.45 2.3zM240.4 363.1l2.45 -2.3l2.45 2.3l-2.45 2.3zM242.6 362.9l2.45 -2.3l2.45 2.3l-2.45 2.3zM244.8 362.7l2.45 -2.3l2.45 2.3l-2.45 2.3zM247.0 362.5l2.45 -2.3l2.45 2.3l-2.45 2.3zM249.1 362.2l2.45 -2.3l2.45 2.3l-2.45 2.3zM251.3 362.0l2.45 -2.3l2.45 2.3l-2.45 2.3zM253.5 361.7l2.45 -2.3l2.45 2.3l-2.45 2.3zM255.6 361.5l2.45 -2.3l2.45 2.3l-2.45 2.3zM257.8 361.2l2.45 -2.3l2.45 2.3l-2.45 2.3zM260.0 360.9l2.45 -2.3l2.45 2.3l-2.45 2.3zM262.1 360.6l2.45 -2.3l2.45 2.3l-2.45 2.3zM264.3 360.3l2.45 -2.3l2.45 2.3l-2.45 2.3zM266.5 360.0l2.45 -2.3l2.45 2.3l-2.45 2.3zM268.7 359.6l2.45 -2.3l2.45 2.3l-2.45 2.3zM270.8 359.2l2.45 -2.3l2.45 2.3l-2.45 2.3zM273.0 358.8l2.45 -2.3l2.45 2.3l-2.45 2.3zM275.2 358.4l2.45 -2.3l2.45 2.3l-2.45 2.3zM277.3 357.9l2.45 -2.3l2.45 2.3l-2.45 2.3zM279.5 357.4l2.45 -2.3l2.45 2.3l-2.45 2.3zM281.7 356.9l2.45 -2.3l2.45 2.3l-2.45 2.3zM283.8 356.4l2.45 -2.3l2.45 2.3l-2.45 2.3zM286.0 355.9l2.45 -2.3l2.45 2.3l-2.45 2.3zM288.2 355.5l2.45 -2.3l2.45 2.3l-2.45 2.3zM290.4 355.1l2.45 -2.3l2.45 2.3l-2.45 2.3zM292.5 354.6l2.45 -2.3l2.45 2.3l-2.45 2.3zM294.7 354.1l2.45 -2.3l2.45 2.3l-2.45 2.3zM296.9 353.5l2.45 -2.3l2.45 2.3l-2.45 2.3zM299.0 352.9l2.45 -2.3l2.45 2.3l-2.45 2.3zM301.2 352.2l2.45 -2.3l2.45 2.3l-2.45 2.3zM303.4 351.5l2.45 -2.3l2.45 2.3l-2.45 2.3zM305.5 350.7l2.45 -2.3l2.45 2.3l-2.45 2.3zM307.7 349.8l2.45 -2.3l2.45 2.3l-2.45 2.3zM309.9 348.9l2.45 -2.3l2.45 2.3l-2.45 2.3zM312.1 348.0l2.45 -2.3l2.45 2.3l-2.45 2.3zM314.2 347.0l2.45 -2.3l2.45 2.3l-2.45 2.3zM316.4 345.9l2.45 -2.3l2.45 2.3l-2.45 2.3zM318.6 344.6l2.45 -2.3l2.45 2.3l-2.45 2.3zM320.7 343.2l2.45 -2.3l2.45 2.3l-2.45 2.3zM322.9 341.5l2.45 -2.3l2.45 2.3l-2.45 2.3zM325.1 339.6l2.45 -2.3l2.45 2.3l-2.45 2.3zM327.3 336.7l2.45 -2.3l2.45 2.3l-2.45 2.3zM329.4 332.5l2.45 -2.3l2.45 2.3l-2.45 2.3zM331.6 328.1l2.45 -2.3l2.45 2.3l-2.45 2.3zM333.8 324.6l2.45 -2.3l2.45 2.3l-2.45 2.3zM335.9 321.7l2.45 -2.3l2.45 2.3l-2.45 2.3zM338.1 318.3l2.45 -2.3l2.45 2.3l-2.45 2.3zM340.3 313.1l2.45 -2.3l2.45 2.3l-2.45 2.3zM342.4 306.6l2.45 -2.3l2.45 2.3l-2.45 2.3zM344.6 300.6l2.45 -2.3l2.45 2.3l-2.45 2.3zM346.8 292.9l2.45 -2.3l2.45 2.3l-2.45 2.3zM349.0 284.2l2.45 -2.3l2.45 2.3l-2.45 2.3zM351.1 275.5l2.45 -2.3l2.45 2.3l-2.45 2.3zM353.3 266.3l2.45 -2.3l2.45 2.3l-2.45 2.3zM355.5 251.3l2.45 -2.3l2.45 2.3l-2.45 2.3zM357.6 240.9l2.45 -2.3l2.45 2.3l-2.45 2.3zM359.2 229.9l2.45 -2.3l2.45 2.3l-2.45 2.3zM361.8 213.1l2.45 -2.3l2.45 2.3l-2.45 2.3zM363.7 197.8l2.45 -2.3l2.45 2.3l-2.45 2.3zM365.9 184.0l2.45 -2.3l2.45 2.3l-2.45 2.3zM368.2 167.6l2.45 -2.3l2.45 2.3l-2.45 2.3zM370.2 154.3l2.45 -2.3l2.45 2.3l-2.45 2.3zM372.6 142.6l2.45 -2.3l2.45 2.3l-2.45 2.3zM374.9 130.4l2.45 -2.3l2.45 2.3l-2.45 2.3zM376.9 122.6l2.45 -2.3l2.45 2.3l-2.45 2.3zM378.9 115.7l2.45 -2.3l2.45 2.3l-2.45 2.3zM381.9 108.4l2.45 -2.3l2.45 2.3l-2.45 2.3zM383.8 105.5l2.45 -2.3l2.45 2.3l-2.45 2.3zM386.2 103.5l2.45 -2.3l2.45 2.3l-2.45 2.3zM388.4 102.3l2.45 -2.3l2.45 2.3l-2.45 2.3zM391.1 104.3l2.45 -2.3l2.45 2.3l-2.45 2.3zM393.6 107.2l2.45 -2.3l2.45 2.3l-2.45 2.3zM396.4 111.3l2.45 -2.3l2.45 2.3l-2.45 2.3zM398.9 117.0l2.45 -2.3l2.45 2.3l-2.45 2.3zM401.4 121.8l2.45 -2.3l2.45 2.3l-2.45 2.3zM403.8 127.9l2.45 -2.3l2.45 2.3l-2.45 2.3zM406.2 135.7l2.45 -2.3l2.45 2.3l-2.45 2.3zM408.7 142.4l2.45 -2.3l2.45 2.3l-2.45 2.3zM411.1 150.4l2.45 -2.3l2.45 2.3l-2.45 2.3zM413.2 158.6l2.45 -2.3l2.45 2.3l-2.45 2.3zM415.4 166.6l2.45 -2.3l2.45 2.3l-2.45 2.3zM417.2 174.0l2.45 -2.3l2.45 2.3l-2.45 2.3zM419.7 182.1l2.45 -2.3l2.45 2.3l-2.45 2.3zM421.6 190.1l2.45 -2.3l2.45 2.3l-2.45 2.3zM423.4 197.7l2.45 -2.3l2.45 2.3l-2.45 2.3zM425.4 206.0l2.45 -2.3l2.45 2.3l-2.45 2.3zM427.7 213.2l2.45 -2.3l2.45 2.3l-2.45 2.3zM429.6 220.9l2.45 -2.3l2.45 2.3l-2.45 2.3zM431.7 228.0l2.45 -2.3l2.45 2.3l-2.45 2.3zM433.6 234.9l2.45 -2.3l2.45 2.3l-2.45 2.3zM435.8 242.3l2.45 -2.3l2.45 2.3l-2.45 2.3zM437.9 249.1l2.45 -2.3l2.45 2.3l-2.45 2.3zM440.1 255.5l2.45 -2.3l2.45 2.3l-2.45 2.3zM442.3 261.5l2.45 -2.3l2.45 2.3l-2.45 2.3zM444.4 267.2l2.45 -2.3l2.45 2.3l-2.45 2.3zM446.6 272.8l2.45 -2.3l2.45 2.3l-2.45 2.3zM448.8 278.7l2.45 -2.3l2.45 2.3l-2.45 2.3zM450.9 284.6l2.45 -2.3l2.45 2.3l-2.45 2.3zM453.1 289.9l2.45 -2.3l2.45 2.3l-2.45 2.3zM455.3 294.2l2.45 -2.3l2.45 2.3l-2.45 2.3zM457.5 298.0l2.45 -2.3l2.45 2.3l-2.45 2.3zM459.6 301.5l2.45 -2.3l2.45 2.3l-2.45 2.3zM461.8 304.7l2.45 -2.3l2.45 2.3l-2.45 2.3zM464.0 308.0l2.45 -2.3l2.45 2.3l-2.45 2.3zM466.1 311.1l2.45 -2.3l2.45 2.3l-2.45 2.3zM468.3 314.1l2.45 -2.3l2.45 2.3l-2.45 2.3zM470.5 316.9l2.45 -2.3l2.45 2.3l-2.45 2.3zM472.6 319.7l2.45 -2.3l2.45 2.3l-2.45 2.3zM474.8 322.3l2.45 -2.3l2.45 2.3l-2.45 2.3zM477.0 324.9l2.45 -2.3l2.45 2.3l-2.45 2.3zM479.2 327.4l2.45 -2.3l2.45 2.3l-2.45 2.3zM481.3 329.8l2.45 -2.3l2.45 2.3l-2.45 2.3zM483.5 332.1l2.45 -2.3l2.45 2.3l-2.45 2.3zM485.7 334.2l2.45 -2.3l2.45 2.3l-2.45 2.3zM487.8 336.3l2.45 -2.3l2.45 2.3l-2.45 2.3zM490.0 338.3l2.45 -2.3l2.45 2.3l-2.45 2.3zM492.2 340.2l2.45 -2.3l2.45 2.3l-2.45 2.3zM494.3 342.0l2.45 -2.3l2.45 2.3l-2.45 2.3zM496.5 343.6l2.45 -2.3l2.45 2.3l-2.45 2.3zM498.7 345.0l2.45 -2.3l2.45 2.3l-2.45 2.3zM500.9 346.3l2.45 -2.3l2.45 2.3l-2.45 2.3zM503.0 347.5l2.45 -2.3l2.45 2.3l-2.45 2.3zM505.2 348.6l2.45 -2.3l2.45 2.3l-2.45 2.3zM507.4 349.7l2.45 -2.3l2.45 2.3l-2.45 2.3zM509.5 350.6l2.45 -2.3l2.45 2.3l-2.45 2.3zM511.7 351.5l2.45 -2.3l2.45 2.3l-2.45 2.3zM513.9 352.4l2.45 -2.3l2.45 2.3l-2.45 2.3zM516.0 353.2l2.45 -2.3l2.45 2.3l-2.45 2.3zM518.2 353.9l2.45 -2.3l2.45 2.3l-2.45 2.3zM520.4 354.6l2.45 -2.3l2.45 2.3l-2.45 2.3zM522.6 355.2l2.45 -2.3l2.45 2.3l-2.45 2.3zM524.7 355.8l2.45 -2.3l2.45 2.3l-2.45 2.3zM526.9 356.5l2.45 -2.3l2.45 2.3l-2.45 2.3zM529.1 357.0l2.45 -2.3l2.45 2.3l-2.45 2.3zM531.2 357.6l2.45 -2.3l2.45 2.3l-2.45 2.3zM533.4 358.2l2.45 -2.3l2.45 2.3l-2.45 2.3zM535.6 358.8l2.45 -2.3l2.45 2.3l-2.45 2.3zM537.7 359.3l2.45 -2.3l2.45 2.3l-2.45 2.3zM539.9 359.8l2.45 -2.3l2.45 2.3l-2.45 2.3zM542.1 360.4l2.45 -2.3l2.45 2.3l-2.45 2.3zM544.3 360.9l2.45 -2.3l2.45 2.3l-2.45 2.3zM546.4 361.3l2.45 -2.3l2.45 2.3l-2.45 2.3zM548.6 361.8l2.45 -2.3l2.45 2.3l-2.45 2.3zM550.8 362.3l2.45 -2.3l2.45 2.3l-2.45 2.3zM552.9 362.8l2.45 -2.3l2.45 2.3l-2.45 2.3zM555.1 363.3l2.45 -2.3l2.45 2.3l-2.45 2.3zM557.3 363.8l2.45 -2.3l2.45 2.3l-2.45 2.3zM559.4 364.2l2.45 -2.3l2.45 2.3l-2.45 2.3zM561.6 364.7l2.45 -2.3l2.45 2.3l-2.45 2.3zM563.8 365.2l2.45 -2.3l2.45 2.3l-2.45 2.3zM566.0 365.6l2.45 -2.3l2.45 2.3l-2.45 2.3zM568.1 366.0l2.45 -2.3l2.45 2.3l-2.45 2.3zM570.3 366.4l2.45 -2.3l2.45 2.3l-2.45 2.3zM572.5 366.8l2.45 -2.3l2.45 2.3l-2.45 2.3zM574.6 367.2l2.45 -2.3l2.45 2.3l-2.45 2.3zM576.8 367.5l2.45 -2.3l2.45 2.3l-2.45 2.3zM579.0 367.9l2.45 -2.3l2.45 2.3l-2.45 2.3zM581.1 368.2l2.45 -2.3l2.45 2.3l-2.45 2.3zM583.3 368.5l2.45 -2.3l2.45 2.3l-2.45 2.3zM585.5 368.8l2.45 -2.3l2.45 2.3l-2.45 2.3zM587.6 369.1l2.45 -2.3l2.45 2.3l-2.45 2.3zM589.8 369.4l2.45 -2.3l2.45 2.3l-2.45 2.3zM592.0 369.7l2.45 -2.3l2.45 2.3l-2.45 2.3zM594.2 369.9l2.45 -2.3l2.45 2.3l-2.45 2.3zM596.3 370.2l2.45 -2.3l2.45 2.3l-2.45 2.3zM598.5 370.4l2.45 -2.3l2.45 2.3l-2.45 2.3zM600.7 370.6l2.45 -2.3l2.45 2.3l-2.45 2.3zM602.8 370.8l2.45 -2.3l2.45 2.3l-2.45 2.3zM580.8 364.4l2.45 -2.3l2.45 2.3l-2.45 2.3z"/>
</g>
<rect x="477.5" y="1.5" width="204" height="125" fill="#fff" stroke="#585858" stroke-width="1.1"/>
<path fill="#000" d="M498.8 11.9h4.0v2.8h-4.0z"/>
<path fill="#f00" d="M498.9 33.8a1.9 1.45 0 1 0 3.8 0a1.9 1.45 0 1 0 -3.8 0z"/>
<path fill="#0f0" d="M498.1 56.0h5.4l-2.7 -4.0z"/>
<path fill="#00f" d="M498.1 73.7h5.4l-2.7 4.0z"/>
<path fill="#0ff" d="M498.2 95.8l2.6 -2.1l2.6 2.1l-2.6 2.1z"/>
<text transform="translate(527.6 18.6) scale(1.18 1)" font-size="16.5" font-weight="normal" text-anchor="start" fill="#161616" stroke="#161616" stroke-width="0.3">SEC</text>
<text transform="translate(527.6 39.1) scale(1.18 1)" font-size="16.5" font-weight="normal" text-anchor="start" fill="#161616" stroke="#161616" stroke-width="0.3">0.5% CNT + SEC</text>
<text transform="translate(527.6 59.5) scale(1.18 1)" font-size="16.5" font-weight="normal" text-anchor="start" fill="#161616" stroke="#161616" stroke-width="0.3">1.0% CNT + SEC</text>
<text transform="translate(527.6 80.3) scale(1.18 1)" font-size="16.5" font-weight="normal" text-anchor="start" fill="#161616" stroke="#161616" stroke-width="0.3">1.5% CNT + SEC</text>
<text transform="translate(527.6 100.9) scale(1.18 1)" font-size="16.5" font-weight="normal" text-anchor="start" fill="#161616" stroke="#161616" stroke-width="0.3">2.0% CNT + SEC</text>
</svg>
</body>
</html>
